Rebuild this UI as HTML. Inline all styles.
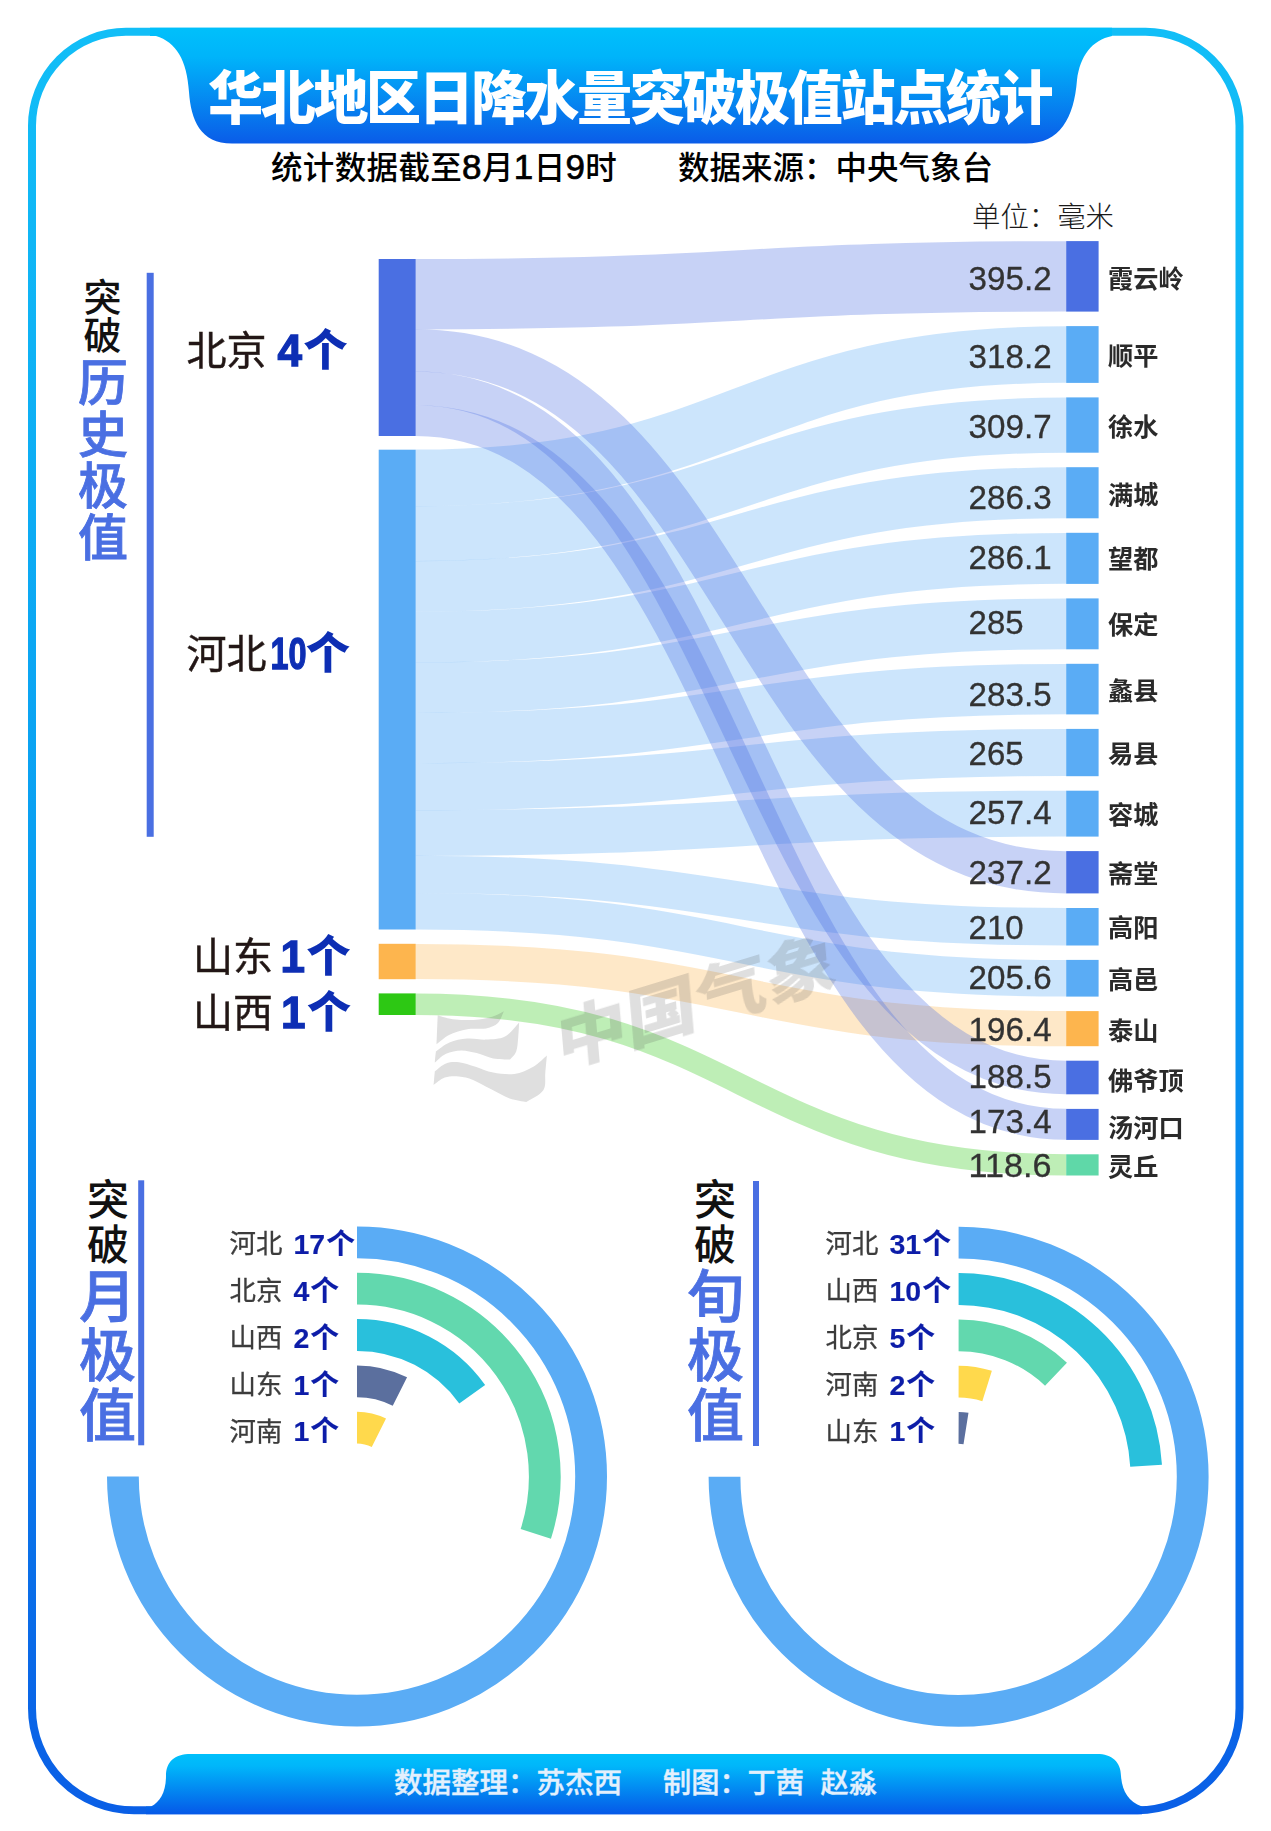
<!DOCTYPE html>
<html lang="zh-CN"><head><meta charset="utf-8"><title>华北地区日降水量突破极值站点统计</title>
<style>html,body{margin:0;padding:0;background:#fff}body{width:1271px;height:1831px;position:relative;overflow:hidden;font-family:"Liberation Sans","Noto Sans CJK SC",sans-serif}</style>
</head><body>
<svg width="1271" height="1831" viewBox="0 0 1271 1831" style="position:absolute;left:0;top:0;font-family:'Liberation Sans','Noto Sans CJK SC',sans-serif">
<defs>
<linearGradient id="gFrame" x1="0" y1="0" x2="0" y2="1"><stop offset="0" stop-color="#12bef7"/><stop offset="0.45" stop-color="#0aa0f2"/><stop offset="1" stop-color="#0a5fe6"/></linearGradient>
<linearGradient id="gBan" x1="0" y1="0" x2="0" y2="1"><stop offset="0" stop-color="#00c0fb"/><stop offset="0.25" stop-color="#00b4fa"/><stop offset="1" stop-color="#0a5ce8"/></linearGradient>
<linearGradient id="gFoot" x1="0" y1="0" x2="0" y2="1"><stop offset="0" stop-color="#00c0fb"/><stop offset="0.2" stop-color="#00b6fa"/><stop offset="1" stop-color="#0558e8"/></linearGradient>
<filter id="soft" x="-5%" y="-5%" width="110%" height="110%"><feGaussianBlur stdDeviation="0.6"/></filter>
</defs>
<path d="M126 31.8 H1145.5 A94 94 0 0 1 1239.5 125.8 V1708.3 A102 102 0 0 1 1137.5 1810.3 H134 A102 102 0 0 1 32 1708.3 V125.8 A94 94 0 0 1 126 31.8 Z" fill="none" stroke="url(#gFrame)" stroke-width="8"/>
<path d="M150 27.8 L1112 27.8 L1112 36 C1092 40 1080 56 1077 80 C1074 118 1060 143.5 1026 143.5 L232 143.5 C200 143.5 191 120 189 92 C187 60 176 42 156 36 L150 36 Z" fill="url(#gBan)"/>
<path d="M146 1814.3 L1142 1814.3 L1142 1806.5 C1128 1802 1122 1790 1121 1776 C1121 1762 1112 1754 1097 1754 L191 1754 C174 1754 166 1762 166 1776 C166 1792 160 1802 151 1806.5 L146 1806.5 Z" fill="url(#gFoot)"/>
<text transform="translate(208 119.2) scale(0.95 1)" font-size="58" font-weight="900" fill="#fff" letter-spacing="-2.5">华北地区日降水量突破极值站点统计</text>
<text x="271" y="179.3" font-size="31.5" font-weight="500" fill="#000" letter-spacing="0.35">统计数据截至<tspan font-size="35" stroke="#000" stroke-width="0.7">8</tspan>月<tspan font-size="35" stroke="#000" stroke-width="0.7">1</tspan>日<tspan font-size="35" stroke="#000" stroke-width="0.7">9</tspan>时</text>
<text x="678" y="179.3" font-size="31.5" font-weight="500" fill="#000" textLength="315" lengthAdjust="spacingAndGlyphs">数据来源：中央气象台</text>
<text x="972" y="227" font-size="28" font-weight="300" fill="#1a1a1a" textLength="142" lengthAdjust="spacingAndGlyphs">单位：毫米</text>
<g fill="none" stroke-opacity="0.31">
<path d="M415.7 294.2 C741 294.2 741 276.4 1066.2 276.4" stroke="#4a6fe2" stroke-width="70.4"/>
<path d="M415.7 477.9 C741 477.9 741 354.5 1066.2 354.5" stroke="#5aacf5" stroke-width="56.6"/>
<path d="M415.7 533.6 C741 533.6 741 425.1 1066.2 425.1" stroke="#5aacf5" stroke-width="55.1"/>
<path d="M415.7 586.4 C741 586.4 741 492.8 1066.2 492.8" stroke="#5aacf5" stroke-width="50.9"/>
<path d="M415.7 637.1 C741 637.1 741 558.4 1066.2 558.4" stroke="#5aacf5" stroke-width="50.9"/>
<path d="M415.7 687.7 C741 687.7 741 623.8 1066.2 623.8" stroke="#5aacf5" stroke-width="50.7"/>
<path d="M415.7 738.1 C741 738.1 741 689.1 1066.2 689.1" stroke="#5aacf5" stroke-width="50.4"/>
<path d="M415.7 786.7 C741 786.7 741 752.5 1066.2 752.5" stroke="#5aacf5" stroke-width="47.1"/>
<path d="M415.7 833 C741 833 741 813.6 1066.2 813.6" stroke="#5aacf5" stroke-width="45.8"/>
<path d="M415.7 350.5 C741 350.5 741 872.3 1066.2 872.3" stroke="#4a6fe2" stroke-width="42.3"/>
<path d="M415.7 874.4 C741 874.4 741 926.7 1066.2 926.7" stroke="#5aacf5" stroke-width="37.4"/>
<path d="M415.7 911.3 C741 911.3 741 978.3 1066.2 978.3" stroke="#5aacf5" stroke-width="36.6"/>
<path d="M415.7 961.5 C741 961.5 741 1028.7 1066.2 1028.7" stroke="#fdb54e" stroke-width="35.2"/>
<path d="M415.7 388.4 C741 388.4 741 1077.5 1066.2 1077.5" stroke="#4a6fe2" stroke-width="33.6"/>
<path d="M415.7 420.6 C741 420.6 741 1124.3 1066.2 1124.3" stroke="#4a6fe2" stroke-width="30.9"/>
<path d="M415.7 1004.2 C741 1004.2 741 1164.9 1066.2 1164.9" stroke="#2dc814" stroke-width="21.4"/>
</g>
<rect x="378.7" y="259" width="37" height="177" fill="#4a6fe2"/>
<rect x="378.7" y="449.7" width="37" height="479.8" fill="#5aacf5"/>
<rect x="378.7" y="943.8" width="37" height="35.4" fill="#fdb54e"/>
<rect x="378.7" y="993.4" width="37" height="21.6" fill="#2dc814"/>
<rect x="1066.2" y="241.1" width="32.4" height="70.5" fill="#4a6fe2"/>
<rect x="1066.2" y="326.1" width="32.4" height="56.8" fill="#5aacf5"/>
<rect x="1066.2" y="397.4" width="32.4" height="55.3" fill="#5aacf5"/>
<rect x="1066.2" y="467.2" width="32.4" height="51.1" fill="#5aacf5"/>
<rect x="1066.2" y="532.8" width="32.4" height="51.1" fill="#5aacf5"/>
<rect x="1066.2" y="598.4" width="32.4" height="50.9" fill="#5aacf5"/>
<rect x="1066.2" y="663.8" width="32.4" height="50.6" fill="#5aacf5"/>
<rect x="1066.2" y="728.9" width="32.4" height="47.3" fill="#5aacf5"/>
<rect x="1066.2" y="790.7" width="32.4" height="45.9" fill="#5aacf5"/>
<rect x="1066.2" y="851.1" width="32.4" height="42.3" fill="#4a6fe2"/>
<rect x="1066.2" y="908" width="32.4" height="37.5" fill="#5aacf5"/>
<rect x="1066.2" y="959.9" width="32.4" height="36.7" fill="#5aacf5"/>
<rect x="1066.2" y="1011.1" width="32.4" height="35.1" fill="#fdb54e"/>
<rect x="1066.2" y="1060.7" width="32.4" height="33.6" fill="#4a6fe2"/>
<rect x="1066.2" y="1108.9" width="32.4" height="31" fill="#4a6fe2"/>
<rect x="1066.2" y="1154.3" width="32.4" height="21.2" fill="#5fd8a8"/>
<g filter="url(#soft)">
<text x="968.6" y="290.1" font-size="33" fill="#333" stroke="#333" stroke-width="0.3" textLength="83" lengthAdjust="spacingAndGlyphs">395.2</text>
<text x="1108" y="287.5" font-size="25.2" font-weight="700" fill="#2b2b2b">霞云岭</text>
<text x="968.6" y="367.5" font-size="33" fill="#333" stroke="#333" stroke-width="0.3" textLength="83" lengthAdjust="spacingAndGlyphs">318.2</text>
<text x="1108" y="365.4" font-size="25.2" font-weight="700" fill="#2b2b2b">顺平</text>
<text x="968.6" y="438.3" font-size="33" fill="#333" stroke="#333" stroke-width="0.3" textLength="83" lengthAdjust="spacingAndGlyphs">309.7</text>
<text x="1108" y="436.2" font-size="25.2" font-weight="700" fill="#2b2b2b">徐水</text>
<text x="968.6" y="509.1" font-size="33" fill="#333" stroke="#333" stroke-width="0.3" textLength="83" lengthAdjust="spacingAndGlyphs">286.3</text>
<text x="1108" y="504" font-size="25.2" font-weight="700" fill="#2b2b2b">满城</text>
<text x="968.6" y="569.1" font-size="33" fill="#333" stroke="#333" stroke-width="0.3" textLength="83" lengthAdjust="spacingAndGlyphs">286.1</text>
<text x="1108" y="568.2" font-size="25.2" font-weight="700" fill="#2b2b2b">望都</text>
<text x="968.6" y="634.3" font-size="33" fill="#333" stroke="#333" stroke-width="0.3" textLength="55" lengthAdjust="spacingAndGlyphs">285</text>
<text x="1108" y="634" font-size="25.2" font-weight="700" fill="#2b2b2b">保定</text>
<text x="968.6" y="705.5" font-size="33" fill="#333" stroke="#333" stroke-width="0.3" textLength="83" lengthAdjust="spacingAndGlyphs">283.5</text>
<text x="1108" y="699.5" font-size="25.2" font-weight="700" fill="#2b2b2b">蠡县</text>
<text x="968.6" y="764.5" font-size="33" fill="#333" stroke="#333" stroke-width="0.3" textLength="55" lengthAdjust="spacingAndGlyphs">265</text>
<text x="1108" y="763.4" font-size="25.2" font-weight="700" fill="#2b2b2b">易县</text>
<text x="968.6" y="824" font-size="33" fill="#333" stroke="#333" stroke-width="0.3" textLength="83" lengthAdjust="spacingAndGlyphs">257.4</text>
<text x="1108" y="824.1" font-size="25.2" font-weight="700" fill="#2b2b2b">容城</text>
<text x="968.6" y="883.6" font-size="33" fill="#333" stroke="#333" stroke-width="0.3" textLength="83" lengthAdjust="spacingAndGlyphs">237.2</text>
<text x="1108" y="883" font-size="25.2" font-weight="700" fill="#2b2b2b">斋堂</text>
<text x="968.6" y="938.6" font-size="33" fill="#333" stroke="#333" stroke-width="0.3" textLength="55" lengthAdjust="spacingAndGlyphs">210</text>
<text x="1108" y="936.8" font-size="25.2" font-weight="700" fill="#2b2b2b">高阳</text>
<text x="968.6" y="988.6" font-size="33" fill="#333" stroke="#333" stroke-width="0.3" textLength="83" lengthAdjust="spacingAndGlyphs">205.6</text>
<text x="1108" y="988.7" font-size="25.2" font-weight="700" fill="#2b2b2b">高邑</text>
<text x="968.6" y="1040.6" font-size="33" fill="#333" stroke="#333" stroke-width="0.3" textLength="83" lengthAdjust="spacingAndGlyphs">196.4</text>
<text x="1108" y="1039.7" font-size="25.2" font-weight="700" fill="#2b2b2b">泰山</text>
<text x="968.6" y="1087.8" font-size="33" fill="#333" stroke="#333" stroke-width="0.3" textLength="83" lengthAdjust="spacingAndGlyphs">188.5</text>
<text x="1108" y="1089.7" font-size="25.2" font-weight="700" fill="#2b2b2b">佛爷顶</text>
<text x="968.6" y="1133.1" font-size="33" fill="#333" stroke="#333" stroke-width="0.3" textLength="83" lengthAdjust="spacingAndGlyphs">173.4</text>
<text x="1108" y="1137.4" font-size="25.2" font-weight="700" fill="#2b2b2b">汤河口</text>
<text x="968.6" y="1176.8" font-size="33" fill="#333" stroke="#333" stroke-width="0.3" textLength="83" lengthAdjust="spacingAndGlyphs">118.6</text>
<text x="1108" y="1175.7" font-size="25.2" font-weight="700" fill="#2b2b2b">灵丘</text>
</g>
<g filter="url(#soft)">
<text x="186.5" y="365" font-size="40" font-weight="400" fill="#231815" stroke="#231815" stroke-width="0.45">北京</text>
<text x="302.0" y="366" font-size="44" font-weight="700" fill="#0a2fb4" stroke="#0a2fb4" stroke-width="1.3" text-anchor="end">4</text>
<text x="303.5" y="366" font-size="44" font-weight="900" fill="#0a2fb4">个</text>
<text x="186.5" y="668" font-size="40" font-weight="400" fill="#231815" stroke="#231815" stroke-width="0.45">河北</text>
<text x="306.5" y="669" font-size="44" font-weight="700" fill="#0a2fb4" stroke="#0a2fb4" stroke-width="1.3" text-anchor="end" textLength="36" lengthAdjust="spacingAndGlyphs">10</text>
<text x="306" y="669" font-size="44" font-weight="900" fill="#0a2fb4">个</text>
<text x="193" y="971" font-size="40" font-weight="400" fill="#231815" stroke="#231815" stroke-width="0.45">山东</text>
<text x="305.0" y="972" font-size="44" font-weight="700" fill="#0a2fb4" stroke="#0a2fb4" stroke-width="1.3" text-anchor="end">1</text>
<text x="306.5" y="972" font-size="44" font-weight="900" fill="#0a2fb4">个</text>
<text x="193" y="1027.3" font-size="40" font-weight="400" fill="#231815" stroke="#231815" stroke-width="0.45">山西</text>
<text x="305.5" y="1028.3" font-size="44" font-weight="700" fill="#0a2fb4" stroke="#0a2fb4" stroke-width="1.3" text-anchor="end">1</text>
<text x="307" y="1028.3" font-size="44" font-weight="900" fill="#0a2fb4">个</text>
</g>
<rect x="146.7" y="272.8" width="7" height="564" fill="#4a6fe2"/>
<text x="102.5" y="310.5" font-size="38" font-weight="500" text-anchor="middle" fill="#111">突</text>
<text x="102.5" y="349.0" font-size="38" font-weight="500" text-anchor="middle" fill="#111">破</text>
<text x="103" y="401.0" font-size="50" font-weight="500" text-anchor="middle" fill="#4a6fe2" stroke="#4a6fe2" stroke-width="0.8">历</text>
<text x="103" y="452.5" font-size="50" font-weight="500" text-anchor="middle" fill="#4a6fe2" stroke="#4a6fe2" stroke-width="0.8">史</text>
<text x="103" y="504.0" font-size="50" font-weight="500" text-anchor="middle" fill="#4a6fe2" stroke="#4a6fe2" stroke-width="0.8">极</text>
<text x="103" y="555.5" font-size="50" font-weight="500" text-anchor="middle" fill="#4a6fe2" stroke="#4a6fe2" stroke-width="0.8">值</text>
<rect x="138.2" y="1180.3" width="6" height="265" fill="#4a6fe2"/>
<text x="108" y="1215.0" font-size="42" font-weight="500" text-anchor="middle" fill="#111">突</text>
<text x="108" y="1259.5" font-size="42" font-weight="500" text-anchor="middle" fill="#111">破</text>
<text x="107.5" y="1317.0" font-size="57" font-weight="500" text-anchor="middle" fill="#4a6fe2" stroke="#4a6fe2" stroke-width="0.8">月</text>
<text x="107.5" y="1376.3" font-size="57" font-weight="500" text-anchor="middle" fill="#4a6fe2" stroke="#4a6fe2" stroke-width="0.8">极</text>
<text x="107.5" y="1435.6" font-size="57" font-weight="500" text-anchor="middle" fill="#4a6fe2" stroke="#4a6fe2" stroke-width="0.8">值</text>
<rect x="753" y="1181" width="6" height="265" fill="#4a6fe2"/>
<text x="715" y="1215.0" font-size="42" font-weight="500" text-anchor="middle" fill="#111">突</text>
<text x="715" y="1259.5" font-size="42" font-weight="500" text-anchor="middle" fill="#111">破</text>
<text x="715.5" y="1317.0" font-size="57" font-weight="500" text-anchor="middle" fill="#4a6fe2" stroke="#4a6fe2" stroke-width="0.8">旬</text>
<text x="715.5" y="1376.3" font-size="57" font-weight="500" text-anchor="middle" fill="#4a6fe2" stroke="#4a6fe2" stroke-width="0.8">极</text>
<text x="715.5" y="1435.6" font-size="57" font-weight="500" text-anchor="middle" fill="#4a6fe2" stroke="#4a6fe2" stroke-width="0.8">值</text>
<path d="M357 1242.4 A234.1 234.1 0 1 1 122.9 1476.5" fill="none" stroke="#5aacf5" stroke-width="31.8"/>
<path d="M357 1288.7 A187.8 187.8 0 0 1 535.8 1533.9" fill="none" stroke="#62d8ae" stroke-width="31.8"/>
<path d="M357 1335 A141.5 141.5 0 0 1 472.2 1394.3" fill="none" stroke="#29c0dc" stroke-width="31.8"/>
<path d="M357 1381.3 A95.2 95.2 0 0 1 399.9 1391.5" fill="none" stroke="#5b6f9e" stroke-width="31.8"/>
<path d="M357 1427.6 A48.9 48.9 0 0 1 378.9 1432.8" fill="none" stroke="#ffd94c" stroke-width="31.8"/>
<g filter="url(#soft)">
<text x="229.5" y="1253.4" font-size="26.4" font-weight="400" fill="#3c3c3c" stroke="#3c3c3c" stroke-width="0.3">河北</text>
<text x="293.5" y="1254.2" font-size="28.5" font-weight="700" fill="#0a1fa8" stroke="#0a1fa8" stroke-width="0.15">17<tspan font-size="28.5" dx="1.2" stroke-width="0.15">个</tspan></text>
<text x="229.5" y="1300.2" font-size="26.4" font-weight="400" fill="#3c3c3c" stroke="#3c3c3c" stroke-width="0.3">北京</text>
<text x="293.5" y="1301" font-size="28.5" font-weight="700" fill="#0a1fa8" stroke="#0a1fa8" stroke-width="0.15">4<tspan font-size="28.5" dx="1.2" stroke-width="0.15">个</tspan></text>
<text x="229.5" y="1347" font-size="26.4" font-weight="400" fill="#3c3c3c" stroke="#3c3c3c" stroke-width="0.3">山西</text>
<text x="293.5" y="1347.8" font-size="28.5" font-weight="700" fill="#0a1fa8" stroke="#0a1fa8" stroke-width="0.15">2<tspan font-size="28.5" dx="1.2" stroke-width="0.15">个</tspan></text>
<text x="229.5" y="1393.8" font-size="26.4" font-weight="400" fill="#3c3c3c" stroke="#3c3c3c" stroke-width="0.3">山东</text>
<text x="293.5" y="1394.6" font-size="28.5" font-weight="700" fill="#0a1fa8" stroke="#0a1fa8" stroke-width="0.15">1<tspan font-size="28.5" dx="1.2" stroke-width="0.15">个</tspan></text>
<text x="229.5" y="1440.6" font-size="26.4" font-weight="400" fill="#3c3c3c" stroke="#3c3c3c" stroke-width="0.3">河南</text>
<text x="293.5" y="1441.4" font-size="28.5" font-weight="700" fill="#0a1fa8" stroke="#0a1fa8" stroke-width="0.15">1<tspan font-size="28.5" dx="1.2" stroke-width="0.15">个</tspan></text>
</g>
<path d="M958.6 1242.7 A234.1 234.1 0 1 1 724.5 1476.8" fill="none" stroke="#5aacf5" stroke-width="31.8"/>
<path d="M958.6 1289 A187.8 187.8 0 0 1 1146.1 1465.7" fill="none" stroke="#29c0dc" stroke-width="31.8"/>
<path d="M958.6 1335.3 A141.5 141.5 0 0 1 1056 1374.2" fill="none" stroke="#62d8ae" stroke-width="31.8"/>
<path d="M958.6 1381.6 A95.2 95.2 0 0 1 987.1 1386" fill="none" stroke="#ffd94c" stroke-width="31.8"/>
<path d="M958.6 1427.9 A48.9 48.9 0 0 1 966 1428.5" fill="none" stroke="#5b6f9e" stroke-width="31.8"/>
<g filter="url(#soft)">
<text x="825.5" y="1253.4" font-size="26.4" font-weight="400" fill="#3c3c3c" stroke="#3c3c3c" stroke-width="0.3">河北</text>
<text x="889.5" y="1254.2" font-size="28.5" font-weight="700" fill="#0a1fa8" stroke="#0a1fa8" stroke-width="0.15">31<tspan font-size="28.5" dx="1.2" stroke-width="0.15">个</tspan></text>
<text x="825.5" y="1300.2" font-size="26.4" font-weight="400" fill="#3c3c3c" stroke="#3c3c3c" stroke-width="0.3">山西</text>
<text x="889.5" y="1301" font-size="28.5" font-weight="700" fill="#0a1fa8" stroke="#0a1fa8" stroke-width="0.15">10<tspan font-size="28.5" dx="1.2" stroke-width="0.15">个</tspan></text>
<text x="825.5" y="1347" font-size="26.4" font-weight="400" fill="#3c3c3c" stroke="#3c3c3c" stroke-width="0.3">北京</text>
<text x="889.5" y="1347.8" font-size="28.5" font-weight="700" fill="#0a1fa8" stroke="#0a1fa8" stroke-width="0.15">5<tspan font-size="28.5" dx="1.2" stroke-width="0.15">个</tspan></text>
<text x="825.5" y="1393.8" font-size="26.4" font-weight="400" fill="#3c3c3c" stroke="#3c3c3c" stroke-width="0.3">河南</text>
<text x="889.5" y="1394.6" font-size="28.5" font-weight="700" fill="#0a1fa8" stroke="#0a1fa8" stroke-width="0.15">2<tspan font-size="28.5" dx="1.2" stroke-width="0.15">个</tspan></text>
<text x="825.5" y="1440.6" font-size="26.4" font-weight="400" fill="#3c3c3c" stroke="#3c3c3c" stroke-width="0.3">山东</text>
<text x="889.5" y="1441.4" font-size="28.5" font-weight="700" fill="#0a1fa8" stroke="#0a1fa8" stroke-width="0.15">1<tspan font-size="28.5" dx="1.2" stroke-width="0.15">个</tspan></text>
</g>
<g opacity="0.19" fill="#555">
<text transform="translate(559 1068) rotate(-17) skewX(-12)" font-size="64" font-weight="900" textLength="292" lengthAdjust="spacingAndGlyphs">中国气象</text>
<path d="M437.7 1015.4 C440.7 1016.1 448.5 1018.8 455.4 1019.5 C462.3 1020.2 472.3 1020.2 479.0 1019.5 C485.7 1018.8 491.4 1016.8 495.5 1015.4 C499.7 1014.0 502.4 1011.9 503.8 1011.2 C502.8 1013.2 500.8 1020.2 497.9 1023.0 C494.9 1025.9 491.2 1027.3 486.1 1028.4 C481.0 1029.4 473.3 1028.1 467.2 1029.2 C461.1 1030.3 454.6 1032.3 449.5 1034.8 C444.4 1037.4 438.7 1042.7 436.5 1044.3 C436.7 1039.5 437.5 1020.2 437.7 1015.4Z M435.9 1051.4 C438.2 1049.9 444.3 1044.6 449.5 1042.5 C454.7 1040.4 461.1 1039.1 467.2 1038.6 C473.3 1038.1 479.8 1039.9 486.1 1039.6 C492.4 1039.2 499.5 1039.5 505.0 1036.6 C510.5 1033.8 516.8 1024.8 519.1 1022.5 C519.0 1024.9 518.7 1032.4 518.2 1037.2 C517.7 1042.0 517.6 1047.6 516.2 1051.4 C514.8 1055.1 510.8 1058.3 509.7 1059.6 C506.9 1059.4 498.7 1059.5 493.2 1058.5 C487.7 1057.4 482.0 1054.5 476.7 1053.1 C471.3 1051.8 466.4 1050.3 461.3 1050.4 C456.2 1050.5 450.4 1051.7 446.0 1053.7 C441.5 1055.8 436.6 1061.1 434.8 1062.6 C434.9 1060.7 435.7 1053.2 435.9 1051.4Z M434.8 1071.4 C436.6 1070.1 441.9 1064.9 446.0 1063.4 C450.0 1061.9 454.0 1061.7 458.9 1062.2 C463.9 1062.8 469.8 1065.0 475.5 1066.7 C481.2 1068.4 486.7 1071.4 493.2 1072.6 C499.7 1073.8 507.7 1075.0 514.4 1074.0 C521.1 1073.0 527.9 1069.8 533.3 1066.7 C538.7 1063.6 544.6 1057.4 546.9 1055.5 C546.6 1058.4 545.9 1066.8 545.3 1072.6 C544.7 1078.4 546.5 1085.4 543.3 1090.3 C540.1 1095.2 529.1 1100.2 526.2 1102.1 C523.5 1101.5 515.6 1100.7 509.7 1098.6 C503.8 1096.4 496.9 1092.2 490.8 1089.1 C484.7 1086.0 478.4 1082.1 473.1 1079.9 C467.8 1077.8 463.7 1076.8 458.9 1076.4 C454.2 1076.0 449.0 1076.1 444.8 1077.6 C440.6 1079.0 435.4 1083.8 433.6 1085.0 C433.8 1082.7 434.6 1073.7 434.8 1071.4Z"/>
</g>
<text x="394" y="1793" font-size="28.4" font-weight="500" fill="#e3f0fd" stroke="#e3f0fd" stroke-width="0.35" textLength="228" lengthAdjust="spacingAndGlyphs">数据整理：苏杰西</text>
<text x="663" y="1793" font-size="28.4" font-weight="500" fill="#e3f0fd" stroke="#e3f0fd" stroke-width="0.35" textLength="141" lengthAdjust="spacingAndGlyphs">制图：丁茜</text>
<text x="820.6" y="1793" font-size="28.4" font-weight="500" fill="#e3f0fd" stroke="#e3f0fd" stroke-width="0.35" textLength="56.5" lengthAdjust="spacingAndGlyphs">赵淼</text>
</svg>
</body></html>
